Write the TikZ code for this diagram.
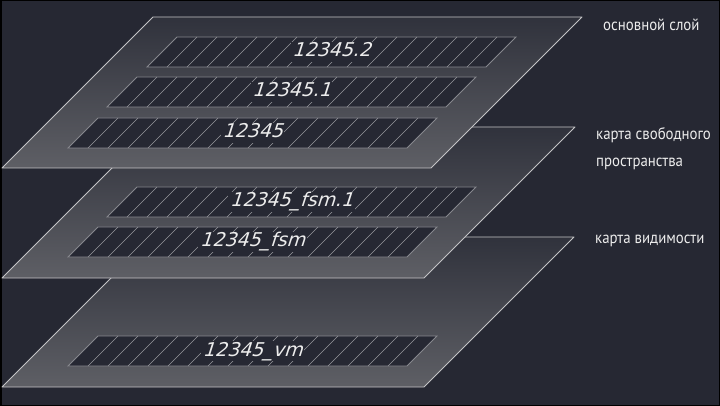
\documentclass[tikz,border=0pt]{standalone}
\usepackage{fontspec}
\usepackage{tikz}
\usetikzlibrary{positioning}
\newfontfamily\stripfont[FakeSlant=0.32]{DejaVu Sans}
\newfontfamily\sidefont[FakeStretch=0.9]{PT Sans}
\definecolor{bgdark}{RGB}{38,40,51}
\definecolor{layertop}{RGB}{48,50,60}
\definecolor{layerbot}{RGB}{94,95,101}
\definecolor{edgegray}{RGB}{196,196,198}
\definecolor{stripfill}{RGB}{38,40,51}
\definecolor{stripedge}{RGB}{135,136,142}
\definecolor{divgray}{RGB}{150,150,156}
\definecolor{labelwhite}{RGB}{236,236,236}
% one strip: lower left corner, node name, text
\newcommand{\drawstrip}[4]{%
  \draw[stripbox] (#1,#2) -- ++(339,0) -- ++(30,-30) -- ++(-339,0) -- cycle;
  \foreach \k in {1,...,16}
    \draw[divline] (#1+20*\k,#2) -- ++(30,-30);
  \node[striplbl] (#3) at (#1+184.5,#2-15) {#4};
}

\begin{document}
\begin{tikzpicture}[
            x=1pt, y=-1pt,
            layer/.style={draw=edgegray, line width=0.9pt, top color=layertop, bottom color=layerbot, line join=round},
            stripbox/.style={draw=stripedge, line width=0.8pt, fill=stripfill},
            divline/.style={draw=divgray, line width=0.6pt},
            striplbl/.style={fill=stripfill, text=labelwhite, inner xsep=1.5pt, inner ysep=1pt, text height=14pt, text depth=4pt, font=\stripfont\fontsize{19}{21}\selectfont},
            sidelbl/.style={text=labelwhite, anchor=west, align=left, inner sep=0pt, font=\sidefont\fontsize{16.5}{27}\selectfont}
        ]
            \useasboundingbox (0,0) rectangle (720,406);
            \fill[bgdark] (0,0) rectangle (720,406);
            \draw[black, line width=1.5pt] (0.75,0.75) rectangle (719.25,405.25);
            % Layer 3: visibility map
            \draw[layer] (2,387) -- ++(422,0) -- ++(150,-150) -- ++(-422,0) -- cycle;
            \drawstrip{68}{366}{vm}{12345\_vm}
            % Layer 2: free space map
            \draw[layer] (2,278) -- ++(422,0) -- ++(151,-151) -- ++(-422,0) -- cycle;
            \drawstrip{68}{257}{fsm}{12345\_fsm}
            \drawstrip{107}{217}{fsmone}{12345\_fsm.1}
            % Layer 1: main fork
            \draw[layer] (2,168) -- ++(429,0) -- ++(151,-151) -- ++(-429,0) -- cycle;
            \drawstrip{68}{148}{main}{12345}
            \drawstrip{107}{107}{mainone}{12345.1}
            \drawstrip{147}{67}{maintwo}{12345.2}
            % Labels on the right
            \node[sidelbl] (mainlbl) at (603,25) {основной слой};
            \node[sidelbl] (fsmlbl) at (596,148.5) {карта свободного\\пространства};
            \node[sidelbl] (vmlbl) at (595,241) {карта видимости};
        \end{tikzpicture}
\end{document}
